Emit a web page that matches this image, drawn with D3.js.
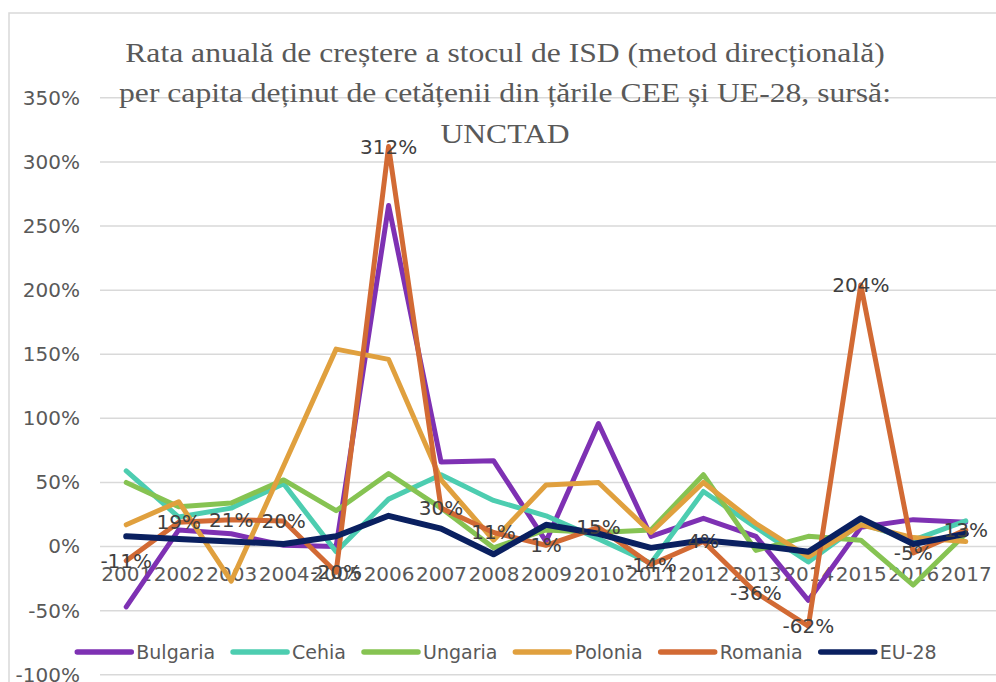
<!DOCTYPE html>
<html>
<head>
<meta charset="utf-8">
<script src="https://cdn.jsdelivr.net/npm/d3@7"></script>
<style>
  html, body { margin: 0; padding: 0; background: #ffffff; }
  svg { display: block; }
</style>
</head>
<body>
<svg id="chart" width="996" height="682"></svg>
<script>
// Annual growth rate of outward FDI stock per capita, 2001-2017 (%)
const years = ["2001","2002","2003","2004","2005","2006","2007","2008","2009",
               "2010","2011","2012","2013","2014","2015","2016","2017"];

const bulgaria = [-47, 13, 10, 1, 0, 266, 66, 67, 4, 96, 8, 22, 8, -42, 15, 21, 19];
const cehia    = [59, 23, 30, 49, -4, 37, 56, 36, 24, 6, -13, 43, 15, -12, 18, 5, 20];
const ungaria  = [50, 31, 34, 52, 28, 57, 30, -1, 13, 11, 13, 56, -3, 8, 5, -30, 10];
const polonia  = [17, 35, -27, 63, 154, 146, 52, 5, 48, 50, 11, 50, 18, -8, 17, 7, 4];
const romania  = [-11, 19, 21, 20, -20, 312, 30, 11, 1, 15, -14, 4, -36, -62, 204, -5, 13];
const eu28     = [8, 6, 4, 2, 8, 24, 14, -6, 17, 10, -1, 5, 1, -4, 22, 2, 10];

const yTicks = [-100, -50, 0, 50, 100, 150, 200, 250, 300, 350];

const titleLines = [
  "Rata anuală de creștere a stocul de ISD (metod direcțională)",
  "per capita deținut de cetățenii din țările CEE și UE-28, sursă:",
  "UNCTAD"
];

const series = [
  { name: "Bulgaria", values: bulgaria, color: "#7E31B3", width: 5 },
  { name: "Cehia",    values: cehia,    color: "#4DCDB0", width: 5 },
  { name: "Ungaria",  values: ungaria,  color: "#86C352", width: 5 },
  { name: "Polonia",  values: polonia,  color: "#E0A03E", width: 5 },
  { name: "Romania",  values: romania,  color: "#D26A34", width: 5 },
  { name: "EU-28",    values: eu28,     color: "#0A2060", width: 6 }
];

const font = "'DejaVu Sans', sans-serif";
const svg = d3.select("#chart");

// chart frame
svg.append("rect")
  .attr("x", 9).attr("y", 13)
  .attr("width", 1100).attr("height", 800)
  .attr("fill", "none").attr("stroke", "#d9d9d9").attr("stroke-width", 1.5);

const x = d3.scalePoint().domain(years).range([100, 992]).padding(0.5);
const y = d3.scaleLinear().domain([-100, 350]).range([674.8, 97.8]);

// horizontal gridlines
svg.append("g").selectAll("line")
  .data(yTicks).join("line")
  .attr("x1", 100).attr("x2", 996)
  .attr("y1", d => y(d)).attr("y2", d => y(d))
  .attr("stroke", "#d9d9d9").attr("stroke-width", 1.5);

// value axis
const yAxis = svg.append("g")
  .attr("transform", "translate(100,0)")
  .call(d3.axisLeft(y).tickValues(yTicks).tickSize(0).tickPadding(20)
          .tickFormat(d => d + "%"));
yAxis.select(".domain").remove();
yAxis.selectAll("text")
  .attr("font-family", font).attr("font-size", 20).attr("fill", "#595959");

// category labels sit just under the zero line
const xAxis = svg.append("g")
  .attr("transform", `translate(0,${y(0)})`)
  .call(d3.axisBottom(x).tickSize(0).tickPadding(20));
xAxis.select(".domain").remove();
xAxis.selectAll("text")
  .attr("font-family", font).attr("font-size", 20).attr("fill", "#595959");

// title, slightly widened serif
svg.append("text")
  .attr("text-anchor", "middle")
  .attr("transform", "translate(505,0) scale(1.13,1)")
  .attr("font-family", "'Liberation Serif', 'Times New Roman', serif")
  .attr("font-size", 28).attr("fill", "#595959")
  .selectAll("tspan").data(titleLines).join("tspan")
  .attr("x", 0).attr("y", (d, i) => 62 + i * 40.5)
  .text(d => d);

// series lines
const line = d3.line()
  .x((d, i) => x(years[i]))
  .y(d => y(d));

svg.append("g").selectAll("path")
  .data(series).join("path")
  .attr("d", s => line(s.values))
  .attr("fill", "none")
  .attr("stroke", s => s.color)
  .attr("stroke-width", s => s.width)
  .attr("stroke-linejoin", "round")
  .attr("stroke-linecap", "round");

// value labels for Romania
svg.append("g").selectAll("text")
  .data(romania).join("text")
  .attr("x", (d, i) => x(years[i]))
  .attr("y", d => y(d))
  .attr("dy", "0.35em")
  .attr("text-anchor", "middle")
  .attr("font-family", font).attr("font-size", 20).attr("fill", "#404040")
  .text(d => d + "%");

// legend
const legend = svg.append("g");
const items = legend.selectAll("g").data(series).join("g");
items.append("line")
  .attr("x1", 0).attr("x2", 54).attr("y1", 0).attr("y2", 0)
  .attr("stroke", s => s.color).attr("stroke-width", 5.5)
  .attr("stroke-linecap", "round");
items.append("text")
  .attr("x", 59).attr("dy", "0.35em")
  .attr("font-family", font).attr("font-size", 19).attr("fill", "#595959")
  .text(s => s.name);

let cursor = 0;
items.each(function () {
  const w = this.getBBox().width;
  d3.select(this).attr("transform", `translate(${cursor},0)`);
  cursor += w + 18;
});
const legendWidth = cursor - 18;
legend.attr("transform", `translate(${507 - legendWidth / 2},652)`);
</script>
</body>
</html>
